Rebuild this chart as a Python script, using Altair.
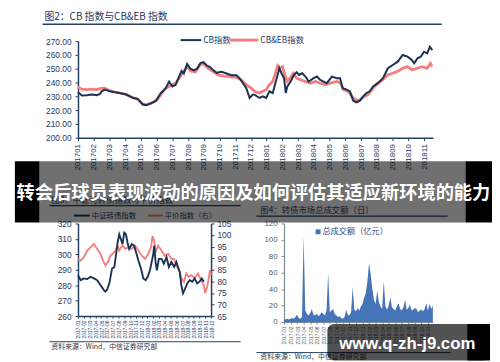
import altair as alt
import pandas as pd

# ------------------------------------------------------------------ data
# Fig.2  CB index vs CB&EB index  (x = month index, 0 = 201701)
top_labels = ["201701", "201702", "201703", "201704", "201705", "201706",
              "201707", "201708", "201709", "201710", "201711", "201712",
              "201801", "201802", "201803", "201804", "201805", "201806",
              "201807", "201808", "201809", "201810", "201811"]
top_ticks = [200, 210, 220, 230, 240, 250, 260, 270]

cb_m = [0, 0.25, 0.56, 0.88, 1.19, 1.40, 1.50, 1.71, 2.03, 2.34,
        2.65, 3.07, 3.49, 3.80, 4.12, 4.33, 4.64, 4.95, 5.27, 5.58,
        5.79, 6.00, 6.21, 6.42, 6.59, 6.73, 6.94, 7.15, 7.36, 7.57,
        7.78, 7.98, 8.19, 8.40, 8.61, 8.82, 9.13, 9.45, 9.76, 10.07,
        10.28, 10.49, 10.70, 10.91, 11.12, 11.22, 11.54, 11.75, 11.96, 12.17,
        12.38, 12.52, 12.69, 12.80, 12.94, 13.10, 13.21, 13.31, 13.52, 13.73,
        13.90, 14.04, 14.25, 14.46, 14.67, 14.98, 15.19, 15.40, 15.61, 15.82,
        16.14, 16.45, 16.66, 16.83, 17.08, 17.29, 17.50, 17.71, 17.92, 18.13,
        18.34, 18.55, 18.76, 19.07, 19.39, 19.70, 20.01, 20.33, 20.64, 20.95,
        21.22, 21.37, 21.58, 21.79, 22.00, 22.20, 22.37, 22.52]
cb_v = [232.9, 230.6, 230.8, 231.3, 230.8, 231.7, 233.6, 234.8, 233.6, 232.9,
        232.4, 231.3, 228.9, 228.2, 224.2, 223.5, 224.9, 226.6, 232.4, 235.9,
        240.6, 237.1, 238.3, 244.1, 248.4, 246.5, 253.5, 250.0, 248.8, 250.0,
        254.0, 254.7, 252.3, 251.2, 248.8, 247.0, 247.7, 246.5, 245.3, 245.3,
        243.0, 239.5, 235.9, 228.9, 231.3, 231.2, 228.8, 230.0, 228.8, 233.6,
        232.4, 238.3, 245.5, 250.3, 246.7, 243.1, 232.4, 237.2, 240.7, 245.5,
        247.5, 245.5, 246.7, 244.3, 240.7, 243.1, 244.3, 241.9, 240.7, 239.5,
        244.3, 243.1, 243.1, 235.9, 234.8, 233.6, 226.8, 225.6, 226.8, 230.0,
        232.4, 233.6, 237.2, 239.5, 243.1, 250.3, 252.7, 255.1, 259.9, 258.7,
        256.3, 253.9, 257.5, 258.7, 262.3, 261.1, 265.9, 263.5]

eb_m = [0, 0.25, 0.56, 0.88, 1.19, 1.50, 1.71, 2.03, 2.34, 2.65,
        3.07, 3.49, 3.80, 4.12, 4.43, 4.74, 5.06, 5.27, 5.58, 5.89,
        6.21, 6.42, 6.63, 6.94, 7.15, 7.46, 7.78, 7.98, 8.30, 8.61,
        8.92, 9.34, 9.76, 10.07, 10.39, 10.70, 11.01,
        11.22, 11.54, 11.75, 11.96, 12.16, 12.37, 12.52, 12.69, 12.85, 13.00,
        13.15, 13.31, 13.48, 13.69, 13.90, 14.15, 14.46, 14.78, 15.09, 15.40,
        15.72, 16.03, 16.45, 16.70, 16.87, 17.18, 17.50, 17.81, 18.12, 18.44,
        18.75, 19.06, 19.37, 19.69, 20.00, 20.31, 20.63, 20.94, 21.25, 21.57,
        21.88, 22.19, 22.40, 22.51]
eb_v = [236.7, 235.2, 234.8, 235.2, 234.8, 235.9, 235.7, 234.1, 233.1, 232.4,
        231.3, 228.9, 227.8, 224.0, 224.2, 225.4, 227.8, 231.3, 235.9, 237.6,
        239.5, 243.0, 246.5, 251.6, 248.4, 247.7, 253.0, 253.5, 250.0, 247.7,
        245.3, 244.6, 244.1, 243.7, 241.8, 238.3, 235.9,
        233.6, 232.4, 233.6, 234.8, 238.3, 240.7, 245.5, 252.2, 250.3, 251.5,
        245.5, 240.7, 243.1, 246.7, 243.1, 241.9, 240.7, 239.5, 240.7, 239.5,
        238.3, 239.5, 240.7, 239.5, 234.8, 233.6, 228.8, 226.4, 229.2, 231.2,
        235.9, 239.5, 241.9, 245.5, 246.7, 247.9, 250.3, 251.5, 249.1, 250.3,
        251.5, 250.3, 253.9, 251.5]

# Fig.3  CSI convertible index (left) vs parity index (right)
bl_labels = ["2017-01", "2017-02", "2017-03", "2017-04", "2017-05", "2017-06",
             "2017-07", "2017-08", "2017-09", "2017-10", "2017-11", "2017-12",
             "2018-01", "2018-02", "2018-03", "2018-04", "2018-05", "2018-06",
             "2018-07", "2018-08", "2018-09", "2018-10", "2018-11", "2018-12"]
bl_left_ticks = [260, 270, 280, 290, 300, 310, 320]
bl_right_ticks = [65, 70, 75, 80, 85, 90, 95, 100, 105]

csi_m = [0, 0.46, 1.03, 1.60, 2.17, 2.74, 3.31, 3.88, 4.45, 4.74,
         5.02, 5.42, 5.88, 6.28, 6.56, 6.85, 7.13, 7.42, 7.70, 7.99,
         8.28, 8.56, 8.85, 9.30, 9.70, 10.04, 10.44, 10.90, 11.30, 11.70,
         12.04, 12.44, 12.73, 13.01, 13.18, 13.41, 13.64, 13.98, 14.44, 14.84,
         15.30, 15.70, 16.15, 16.61, 17.01, 17.29, 17.58, 17.86, 18.15, 18.43,
         18.89, 19.29, 19.75, 20.15, 20.60, 21.00, 21.40, 21.74]
csi_v = [286.5, 283.3, 284.4, 284.0, 285.5, 284.4, 283.3, 280.1, 277.0, 275.9,
         277.0, 281.2, 290.7, 291.8, 299.2, 307.7, 313.0, 309.8, 306.6, 314.0,
         313.0, 307.7, 303.5, 306.6, 305.6, 301.3, 296.0, 290.7, 284.4, 283.3,
         285.5, 289.7, 295.0, 300.3, 305.6, 295.0, 289.7, 297.1, 297.1, 293.9,
         298.2, 291.8, 295.0, 291.8, 295.0, 291.8, 288.6, 280.1, 274.8, 277.0,
         281.2, 283.3, 282.3, 284.4, 281.2, 282.3, 284.4, 282.3]

par_m = [0, 0.46, 1.03, 1.60, 2.17, 2.74, 3.31, 3.88, 4.45, 4.74,
         5.19, 5.59, 5.99, 6.45, 6.85, 7.13, 7.42, 7.70, 8.16, 8.73,
         9.30, 9.87, 10.44, 11.02, 11.59, 12.16, 12.61, 12.90, 13.18, 13.41,
         13.87, 14.44, 15.01, 15.58, 16.15, 16.61, 17.01, 17.58, 17.86, 18.32,
         18.72, 19.12, 19.58, 20.15, 20.72, 21.29, 21.74, 21.97, 22.32, 22.54,
         22.83, 23.0]
par_v = [89.7, 89.0, 90.4, 93.3, 94.7, 96.1, 94.0, 91.9, 88.3, 86.9,
         88.3, 91.1, 91.9, 93.3, 95.4, 93.3, 94.7, 95.4, 94.0, 94.7,
         94.0, 95.4, 93.3, 91.1, 89.7, 91.9, 94.7, 99.6, 97.5, 92.6,
         95.4, 93.3, 91.1, 91.9, 89.7, 89.7, 86.9, 84.1, 81.3, 79.8,
         83.4, 82.0, 82.7, 81.3, 83.4, 80.5, 78.4, 74.9, 77.7, 80.5,
         84.8, 82.7]

# Fig.4  daily total turnover (100m CNY)
br_labels = ["2017-01", "2017-02", "2017-03", "2017-04", "2017-05", "2017-06",
             "2017-07", "2017-08", "2017-09", "2017-10", "2017-11", "2017-12",
             "2018-01", "2018-02", "2018-03", "2018-04", "2018-05", "2018-06",
             "2018-07", "2018-08", "2018-09", "2018-10", "2018-11"]
br_ticks = [0, 20, 40, 60, 80, 100, 120]
turnover = [4, 3, 4, 3, 4, 5, 4, 6, 9, 5,
            4, 6, 104, 14, 10, 8, 11, 16, 9, 8,
            10, 7, 9, 12, 10, 8, 14, 59, 12, 14,
            16, 10, 8, 6, 7, 5, 4, 6, 15, 9,
            8, 12, 43, 15, 13, 17, 14, 19, 22, 30,
            35, 50, 72, 58, 40, 27, 22, 38, 24, 19,
            16, 50, 19, 15, 20, 30, 18, 16, 14, 19,
            23, 16, 14, 18, 27, 15, 17, 21, 14, 15,
            17, 16, 12, 14, 15, 13, 16, 23, 14, 22,
            16, 20]

# ------------------------------------------------------------------ style
FONT = "'Liberation Sans', 'Noto Sans CJK SC', sans-serif"
CJK = "'Noto Sans CJK SC', 'Liberation Sans', sans-serif"
NAVY = "#1f3864"
AXN = "#23405f"
DARK = "#1b3152"
PINK = "#f27f7d"
BLUE = "#4674b8"
GRAY = "#595959"

one = pd.DataFrame({"k": [0]})


def label_expr(labels, step=1):
    arr = "[" + ",".join("'%s'" % s for s in labels) + "]"
    if step == 1:
        return arr + "[round(datum.value)]"
    return arr + "[round(datum.value/%d)]" % step


def txt(o, s, px, py, size, color, align="left", weight="normal", font=CJK):
    return alt.Chart(one).mark_text(
        text=s, fontSize=size, color=color, align=align, baseline="middle",
        fontWeight=weight, font=font
    ).encode(x=alt.value(px - o[0]), y=alt.value(py - o[1]))


def hline(o, px1, px2, py, color, width):
    return alt.Chart(one).mark_rule(color=color, strokeWidth=width).encode(
        x=alt.value(px1 - o[0]), x2=alt.value(px2 - o[0]), y=alt.value(py - o[1]))


def box(o, px1, px2, py1, py2, color, opacity, radius=0):
    return alt.Chart(one).mark_rect(color=color, opacity=opacity, cornerRadius=radius).encode(
        x=alt.value(px1 - o[0]), x2=alt.value(px2 - o[0]),
        y=alt.value(py1 - o[1]), y2=alt.value(py2 - o[1]))


# ------------------------------------------------------------------ Fig.2 (top)
O1 = (79, 39)
x_top = alt.X("m:Q", scale=alt.Scale(domain=[0, 22.56], nice=False, zero=False),
              axis=alt.Axis(values=list(range(len(top_labels))), labelExpr=label_expr(top_labels),
                            labelAngle=270, labelFontSize=8, labelColor=NAVY, labelFont=FONT,
                            labelPadding=3, labelOverlap=False, labelFlush=False,
                            domainColor=AXN, domainWidth=1.5, tickColor=AXN, tickSize=3,
                            grid=False, title=None))
y_top = alt.Y("v:Q", scale=alt.Scale(domain=[200, 270], nice=False, zero=False),
              axis=alt.Axis(values=top_ticks, format=".2f", labelFontSize=8.5, labelColor=NAVY,
                            labelFont=FONT, labelPadding=4, domainColor=AXN, domainWidth=1.5,
                            tickColor=AXN, tickSize=3, grid=False, title=None))

eb_line = alt.Chart(pd.DataFrame({"m": eb_m, "v": eb_v})).mark_line(
    color=PINK, strokeWidth=2.8).encode(x=x_top, y=y_top)
cb_line = alt.Chart(pd.DataFrame({"m": cb_m, "v": cb_v})).mark_line(
    color=DARK, strokeWidth=2.0).encode(x=x_top, y=y_top)

top = alt.layer(
    box(O1, 8, 492, 8, 175, "white", 0),
    txt(O1, "图2：CB 指数与CB&EB 指数", 45, 15, 10, NAVY),
    hline(O1, 43, 448, 22, AXN, 1.5),
    hline(O1, 183, 204, 38, DARK, 2),
    txt(O1, "CB指数", 206, 38, 8.5, NAVY),
    hline(O1, 233, 262, 38, PINK, 3),
    txt(O1, "CB&EB指数", 264, 38, 8.5, NAVY),
    eb_line, cb_line,
).properties(width=360, height=98)

# ------------------------------------------------------------------ Fig.3 (bottom left)
O2 = (72, 224)
x_bl = alt.X("m:Q", scale=alt.Scale(domain=[0, 23], nice=False, zero=False),
             axis=alt.Axis(values=list(range(len(bl_labels))), labelExpr=label_expr(bl_labels),
                           labelAngle=270, labelFontSize=5, labelColor=NAVY, labelFont=FONT,
                           labelPadding=2, labelOverlap=False, labelFlush=False,
                           domainColor=AXN, domainWidth=1.5, tickColor=AXN, tickSize=2,
                           grid=False, title=None))
csi_line = alt.Chart(pd.DataFrame({"m": csi_m, "v": csi_v})).mark_line(
    color=DARK, strokeWidth=1.9).encode(
    x=x_bl,
    y=alt.Y("v:Q", scale=alt.Scale(domain=[260, 320], nice=False, zero=False),
            axis=alt.Axis(values=bl_left_ticks, labelFontSize=8.5, labelColor=NAVY, labelFont=FONT,
                          labelPadding=4, domainColor=AXN, domainWidth=1.5, tickColor=AXN,
                          tickSize=3, grid=False, title=None, orient="left")))
par_line = alt.Chart(pd.DataFrame({"m": par_m, "v": par_v})).mark_line(
    color=PINK, strokeWidth=1.9).encode(
    x=x_bl,
    y=alt.Y("v:Q", scale=alt.Scale(domain=[65, 105], nice=False, zero=False),
            axis=alt.Axis(values=bl_right_ticks, labelFontSize=8.5, labelColor=NAVY, labelFont=FONT,
                          labelPadding=3, domainColor=AXN, domainWidth=1.5, tickColor=AXN,
                          tickSize=3, grid=False, title=None, orient="right")))

bl = alt.layer(
    box(O2, 8, 245, 150, 353, "white", 0),
    txt(O2, "图3：中证可转债指数与平价指数", 45, 200, 8.5, NAVY),
    hline(O2, 43, 237, 206, AXN, 1.2),
    hline(O2, 68, 84, 216, DARK, 2),
    txt(O2, "中证转债指数", 86, 216, 7.5, NAVY),
    hline(O2, 143, 158, 216, PINK, 2),
    txt(O2, "平价指数（右）", 160, 216, 7.5, NAVY),
    hline(O2, 43, 237, 344, AXN, 1),
    txt(O2, "资料来源：Wind，中信证券研究部", 45, 349, 7, "#333333"),
    par_line, csi_line,
).resolve_scale(y="independent").properties(width=135, height=94)

# ------------------------------------------------------------------ Fig.4 (bottom right)
O3 = (281, 213)
bars = alt.Chart(pd.DataFrame({"i": list(range(len(turnover))), "v": turnover})).mark_area(
    color=BLUE, interpolate="linear").encode(
    x=alt.X("i:Q", scale=alt.Scale(domain=[0, len(turnover) - 1], nice=False, zero=False),
            axis=alt.Axis(values=list(range(0, 4 * len(br_labels), 4)), labelExpr=label_expr(br_labels, 4),
                          labelAngle=270, labelFontSize=5, labelColor=GRAY, labelFont=FONT,
                          labelPadding=2, labelOverlap=False, labelFlush=False,
                          domainColor="#7f8a99", domainWidth=1.2, tickColor="#7f8a99", tickSize=2,
                          grid=False, title=None)),
    y=alt.Y("v:Q", scale=alt.Scale(domain=[0, 120], nice=False),
            axis=alt.Axis(values=br_ticks, labelFontSize=8, labelColor=GRAY, labelFont=FONT,
                          labelPadding=4, domainColor="#7f8a99", domainWidth=1.2,
                          tickColor="#7f8a99", tickSize=3, grid=False, title=None)))

br = alt.layer(
    box(O3, 8, 492, 150, 353, "white", 0),
    txt(O3, "图4：转债市场总成交额（日）", 257, 199, 8.5, NAVY),
    hline(O3, 253, 447, 205.5, AXN, 1.2),
    box(O3, 313, 318, 219, 224, BLUE, 1),
    txt(O3, "总成交额（亿元）", 320, 221.5, 8.3, "#2f4d85"),
    bars,
    hline(O3, 253, 450, 344, AXN, 1),
    txt(O3, "资料来源：Wind，中信证券研究部", 257, 349, 7, "#333333"),
    # overlay banner
    box(O3, 8, 33, 150, 212, "black", 1),
    box(O3, 33, 465, 150, 212, "black", 0.56),
    box(O3, 465, 492, 150, 212, "black", 1),
    txt(O3, "转会后球员表现波动的原因及如何评估其适应新环境的能力", 250, 182, 18.5, "white",
        align="center", weight="bold"),
    # watermark
    box(O3, 325, 490, 315, 352, "black", 0.68, 7),
    box(O3, 467, 490, 315, 352, "black", 1),
    txt(O3, "www.q-zh-j9.com", 406, 335, 17, "white", align="center", weight="bold",
        font="'Liberation Sans', 'DejaVu Sans', sans-serif"),
).properties(width=151, height=100)

bottom = alt.hconcat(bl, br, spacing=-237, bounds="full")
chart = alt.vconcat(top, bottom, spacing=-25, bounds="full").properties(
    padding=0, background="white"
).configure_view(strokeWidth=0)

chart.save("out.html", embed_options={"renderer": "svg", "actions": False})
